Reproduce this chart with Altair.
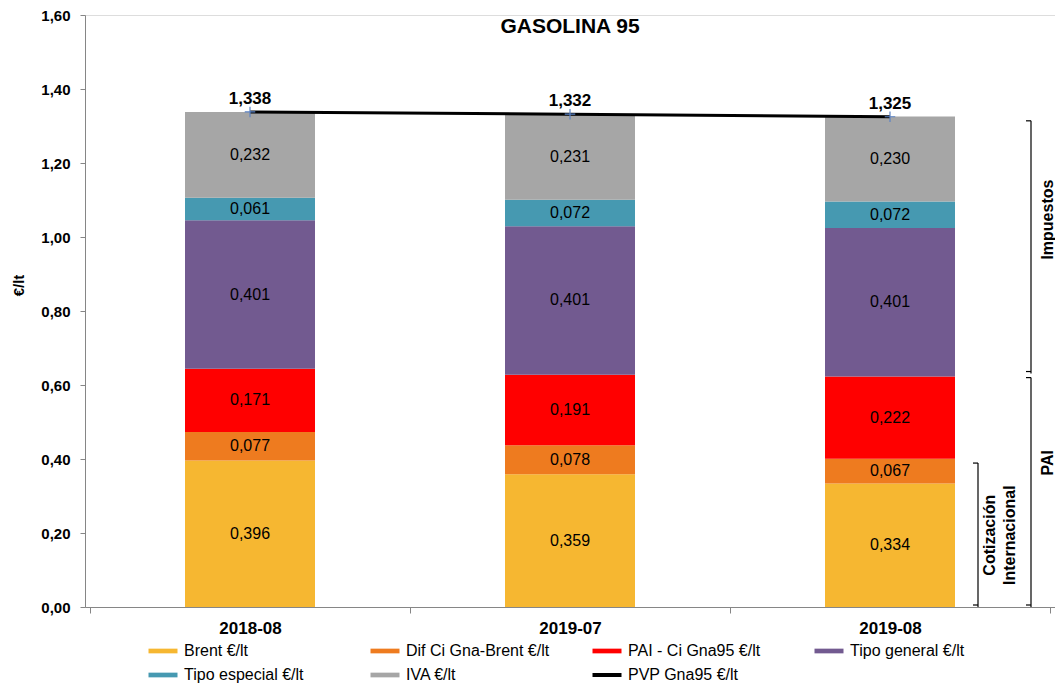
import altair as alt
import pandas as pd

# ---------------- data ----------------
periods = ["2018-08", "2019-07", "2019-08"]
components = ["Brent €/lt", "Dif Ci Gna-Brent €/lt", "PAI - Ci Gna95 €/lt",
              "Tipo general €/lt", "Tipo especial €/lt", "IVA €/lt"]
brent = [0.396, 0.359, 0.334]
dif_ci = [0.077, 0.078, 0.067]
pai_ci = [0.171, 0.191, 0.222]
tipo_general = [0.401, 0.401, 0.401]
tipo_especial = [0.061, 0.072, 0.072]
iva = [0.232, 0.231, 0.230]
pvp_name = "PVP Gna95 €/lt"
pvp = [1.338, 1.332, 1.325]
y_ticks = [0.0, 0.2, 0.4, 0.6, 0.8, 1.0, 1.2, 1.4, 1.6]

# brackets on the right-hand side (value ranges they embrace)
inner_names = ["Cotización\nInternacional"]
inner_low = [0.0]
inner_high = [0.389]
inner_label_y = [0.194]
outer_names = ["PAI", "Impuestos"]
outer_low = [0.0, 0.631]
outer_high = [0.620, 1.314]
outer_label_y = [0.39, 1.047]

colors = ["#F6B731", "#EE7B1F", "#FF0000", "#725A90", "#4699B1", "#A6A6A6", "#000000"]

# ---------------- tables ----------------
series = [brent, dif_ci, pai_ci, tipo_general, tipo_especial, iva]
rows = []
for k, (name, vals) in enumerate(zip(components, series)):
    for i, v in enumerate(vals):
        rows.append({"idx": i, "component": name, "value": v, "order": k})
bars_df = pd.DataFrame(rows)
pvp_df = pd.DataFrame({"idx": list(range(len(periods))), "pvp": pvp})
inner_df = pd.DataFrame({"idx": [len(periods) - 1] * len(inner_names), "name": inner_names,
                         "low": inner_low, "high": inner_high, "ly": inner_label_y})
outer_df = pd.DataFrame({"idx": [len(periods) - 1] * len(outer_names), "name": outer_names,
                         "low": outer_low, "high": outer_high, "ly": outer_label_y})

FONT = "Liberation Sans"
AXIS_GREY = "#868686"
period_js = "[" + ",".join("'" + p + "'" for p in periods) + "]"

x_scale = alt.Scale(domain=[-0.5, len(periods) - 0.5], nice=False, zero=False)
y_scale = alt.Scale(domain=[0, 1.6], nice=False)

x_axis = alt.Axis(
    values=[-0.5, 0, 0.5, 1, 1.5, 2, 2.5],
    labelExpr=f"datum.value % 1 === 0 ? {period_js}[datum.value] : ''",
    tickOpacity={"condition": {"test": "datum.value % 1 === 0", "value": 0}, "value": 1},
    tickSize=6, tickColor=AXIS_GREY, domainColor=AXIS_GREY,
    labelFont=FONT, labelFontSize=17, labelFontWeight="bold", labelColor="black",
    labelPadding=7, grid=False, title=None, labelFlush=False, labelOverlap=False,
)
y_axis = alt.Axis(
    values=y_ticks,
    labelExpr="replace(format(datum.value, '.2f'), '.', ',')",
    tickSize=5, tickColor=AXIS_GREY, domainColor=AXIS_GREY,
    labelFont=FONT, labelFontSize=15, labelFontWeight="bold", labelColor="black",
    labelPadding=10, grid=False,
    title="€/lt", titleFont=FONT, titleFontSize=15, titleFontWeight="bold", titleColor="black",
    titleAngle=270, titleX=-67, titleY=270, titleAlign="center", titleBaseline="middle",
)

is_pvp = f"datum.value === '{pvp_name}'"
legend = alt.Legend(
    orient="none", legendX=70, legendY=628, columns=4, direction="horizontal", title=None,
    labelFont=FONT, labelFontSize=16, labelColor="black", labelOffset=13,
    symbolSize=100, columnPadding=34, rowPadding=8, gridAlign="all",
    symbolType=alt.ExprRef(expr=f"{is_pvp} ? 'M-2.9,0H2.9' : 'M-2.9,-0.47H2.9V0.47H-2.9Z'"),
    symbolStrokeWidth=alt.ExprRef(expr=f"{is_pvp} ? 4 : 0"),
    symbolStrokeColor=alt.ExprRef(expr="scale('color', datum.value)"),
)

color = alt.Color("component:N",
                  scale=alt.Scale(domain=components + [pvp_name], range=colors),
                  legend=legend)

bars = alt.Chart(bars_df).mark_bar(size=130).encode(
    x=alt.X("idx:Q", scale=x_scale, axis=x_axis),
    y=alt.Y("value:Q", scale=y_scale, axis=y_axis, stack="zero"),
    color=color,
    order=alt.Order("order:Q"),
)

bar_labels = alt.Chart(bars_df).transform_stack(
    stack="value", groupby=["idx"], as_=["y0", "y1"], sort=[alt.SortField("order")]
).transform_calculate(
    mid="(datum.y0 + datum.y1) / 2",
    label="replace(format(datum.value, '.3f'), '.', ',')",
).mark_text(font=FONT, fontSize=16, color="black").encode(
    x=alt.X("idx:Q", scale=x_scale),
    y=alt.Y("mid:Q", scale=y_scale),
    text="label:N",
)

line = alt.Chart(pvp_df).mark_line(color="black", strokeWidth=3).encode(
    x=alt.X("idx:Q", scale=x_scale),
    y=alt.Y("pvp:Q", scale=y_scale),
)
points = alt.Chart(pvp_df).mark_point(shape="M-1,0H1M0,-1V1", size=110, filled=False,
                                      strokeWidth=1.2, color="#5B82C4", opacity=1).encode(
    x=alt.X("idx:Q", scale=x_scale),
    y=alt.Y("pvp:Q", scale=y_scale),
)
pvp_labels = alt.Chart(pvp_df).transform_calculate(
    label="replace(format(datum.pvp, '.3f'), '.', ',')"
).mark_text(font=FONT, fontSize=17, fontWeight="bold", color="black", dy=-13).encode(
    x=alt.X("idx:Q", scale=x_scale),
    y=alt.Y("pvp:Q", scale=y_scale),
    text="label:N",
)

def bracket_layers(df, off, lab_off, label_props):
    vert = alt.Chart(df).mark_rule(color="black", strokeWidth=1.2, xOffset=off).encode(
        x=alt.X("idx:Q", scale=x_scale), y=alt.Y("low:Q", scale=y_scale), y2="high:Q")
    top = alt.Chart(df).mark_rule(color="black", strokeWidth=1.2,
                                  xOffset=off - 5, x2Offset=off).encode(
        x=alt.X("idx:Q", scale=x_scale), x2="idx:Q", y=alt.Y("high:Q", scale=y_scale))
    bot = alt.Chart(df).mark_rule(color="black", strokeWidth=1.2,
                                  xOffset=off - 5, x2Offset=off, yOffset=-2).encode(
        x=alt.X("idx:Q", scale=x_scale), x2="idx:Q", y=alt.Y("low:Q", scale=y_scale))
    txt = alt.Chart(df).mark_text(font=FONT, fontSize=16, fontWeight="bold", color="black",
                                  angle=270, align="center", xOffset=lab_off,
                                  **label_props).encode(
        x=alt.X("idx:Q", scale=x_scale), y=alt.Y("ly:Q", scale=y_scale), text="name:N")
    return [vert, top, bot, txt]

inner = bracket_layers(inner_df, 88, 105,
                       {"baseline": "alphabetic", "lineBreak": "\n", "lineHeight": 20})
outer = bracket_layers(outer_df, 141, 163, {"baseline": "alphabetic"})

chart = alt.layer(bars, bar_labels, line, points, pvp_labels, *inner, *outer).properties(
    width=970, height=592,
    title=alt.Title("GASOLINA 95", font=FONT, fontSize=21, fontWeight="bold", color="black",
                    anchor="middle", frame="group", offset=-29),
    autosize=alt.AutoSizeParams(type="none"),
    padding={"left": 77, "top": 7, "right": 0, "bottom": 78},
).configure_view(stroke=None).configure(background="white")

chart.save("out.html", embed_options={"renderer": "svg", "actions": False})
